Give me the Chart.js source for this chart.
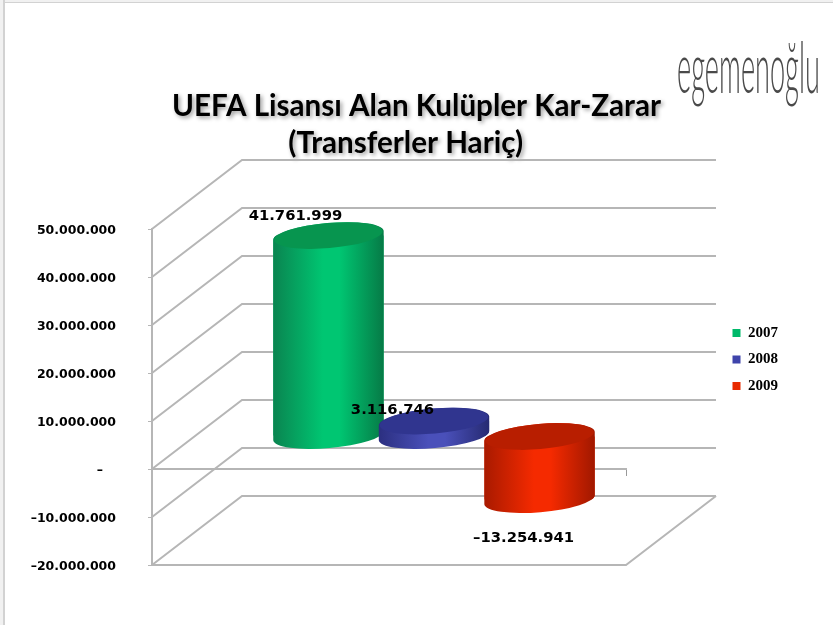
<!DOCTYPE html>
<html>
<head>
<meta charset="utf-8">
<style>
  html, body { margin: 0; padding: 0; background: #fff; }
  #wrap { position: relative; width: 833px; height: 625px; overflow: hidden; }
  #chart { position: absolute; left: 0; top: 0; }
</style>
<script src="https://cdn.jsdelivr.net/npm/chart.js@4"></script>
</head>
<body>
<div id="wrap"><canvas id="chart" width="833" height="625"></canvas></div>
<script>
const categories = ["Kar-Zarar"];
const seriesNames = ["2007", "2008", "2009"];
const seriesValues = [41761999, 3116746, -13254941];
const valueLabels = ["41.761.999", "3.116.746", "–13.254.941"];
const yTickLabels = [
  "–20.000.000",
  "–10.000.000",
  "–   ",
  "10.000.000",
  "20.000.000",
  "30.000.000",
  "40.000.000",
  "50.000.000",
];
const titleLines = ["UEFA Lisansı Alan Kulüpler Kar-Zarar", "(Transferler Hariç)   "];

const seriesColors = ["#00b96a", "#3f44ab", "#e82a00"];
const sideShades = [
  ["#0a8450", "#00c672", "#067a46"],
  ["#2b2f80", "#4a50ba", "#262a72"],
  ["#a81a00", "#f52a00", "#a01800"],
];
const capColors = ["#07954f", "#30358f", "#b81e00"];
const labelShift = [[-33, -19], [-41.5, -11], [-16, 39]];

const gridColor = "#b6b6b6";
const backDepth = { x: 90, y: -69 };
const barDepth = { x: 45, y: -33 };
const capTilt = -0.085;
const capHeight = 12.6;

function capsule(ctx, x, top, bottom, a) {
  ctx.beginPath();
  ctx.ellipse(x, bottom, a, capHeight, capTilt, 0, Math.PI);
  ctx.ellipse(x, top, a, capHeight, capTilt, Math.PI, Math.PI * 2);
  ctx.closePath();
}

// floor, back wall and side wall of the 3d box, taken from the y scale
const boxPlugin = {
  id: "box3d",
  beforeDatasetsDraw(chart) {
    const { ctx, scales, chartArea } = chart;
    const y = scales.y;
    ctx.save();
    ctx.strokeStyle = gridColor;
    ctx.lineWidth = 2;
    y.ticks.forEach((t) => {
      const py = y.getPixelForValue(t.value);
      ctx.beginPath();
      ctx.moveTo(chartArea.left, py);
      ctx.lineTo(chartArea.left + backDepth.x, py + backDepth.y);
      ctx.lineTo(chartArea.right + backDepth.x, py + backDepth.y);
      ctx.stroke();
    });
    const bottom = y.getPixelForValue(y.min);
    ctx.beginPath();
    ctx.moveTo(chartArea.left, bottom);
    ctx.lineTo(chartArea.right, bottom);
    ctx.lineTo(chartArea.right + backDepth.x, bottom + backDepth.y);
    ctx.stroke();
    ctx.restore();
  },
  // the library's own bar is moved back and trimmed to the cylinder outline
  beforeDatasetDraw(chart, args) {
    const { ctx } = chart;
    const bar = chart.getDatasetMeta(args.index).data[0];
    ctx.save();
    capsule(
      ctx,
      bar.x + barDepth.x,
      Math.min(bar.y, bar.base) + barDepth.y,
      Math.max(bar.y, bar.base) + barDepth.y,
      bar.width / 2
    );
    ctx.clip();
    ctx.translate(barDepth.x, barDepth.y);
  },
  afterDatasetDraw(chart) {
    chart.ctx.restore();
  },
  afterDatasetsDraw(chart) {
    const { ctx } = chart;
    seriesValues.forEach((v, i) => {
      const bar = chart.getDatasetMeta(i).data[0];
      const cx = bar.x + barDepth.x;
      const a = bar.width / 2;
      const top = Math.min(bar.y, bar.base) + barDepth.y;
      const bottom = Math.max(bar.y, bar.base) + barDepth.y;
      const g = ctx.createLinearGradient(cx - a, 0, cx + a, 0);
      g.addColorStop(0, sideShades[i][0]);
      g.addColorStop(0.45, sideShades[i][1]);
      g.addColorStop(0.6, sideShades[i][1]);
      g.addColorStop(1, sideShades[i][2]);
      capsule(ctx, cx, top, bottom, a);
      ctx.fillStyle = g;
      ctx.fill();
      ctx.beginPath();
      ctx.ellipse(cx, top, a - 1, capHeight, capTilt, 0, Math.PI * 2);
      ctx.fillStyle = capColors[i];
      ctx.fill();
    });
    ctx.save();
    ctx.font = "bold 14.8px 'DejaVu Sans'";
    ctx.fillStyle = "#000";
    ctx.textAlign = "center";
    ctx.textBaseline = "middle";
    seriesValues.forEach((v, i) => {
      const bar = chart.getDatasetMeta(i).data[0];
      ctx.fillText(valueLabels[i], bar.x + barDepth.x + labelShift[i][0], bar.y + barDepth.y + labelShift[i][1]);
    });
    ctx.restore();
  },
  afterLayout(chart) {
    // legend sits higher and further right than the layout would put it
    const lg = chart.legend;
    lg.left += 95;
    lg.right += 95;
    lg.top -= 37.5;
    lg.bottom -= 37.5;
    // title is centred on the whole page, not on what the padding leaves
    chart.titleBlock.left = 0;
    chart.titleBlock.right = chart.width;
  },
  afterInit(chart) {
    // soft shadow behind the title
    const tb = chart.titleBlock;
    const drawTitle = tb.draw;
    tb.draw = function () {
      const c = this.ctx;
      c.save();
      c.shadowColor = "rgba(0,0,0,0.4)";
      c.shadowBlur = 4;
      c.shadowOffsetX = 2;
      c.shadowOffsetY = 2;
      drawTitle.call(this);
      c.restore();
    };
  },
  afterDraw(chart) {
    const { ctx } = chart;
    // logo wordmark
    ctx.save();
    ctx.translate(677, 93);
    ctx.scale(0.388, 1);
    ctx.font = "300 70px Lato";
    ctx.fillStyle = "#4a4a4a";
    ctx.textBaseline = "alphabetic";
    ctx.fillText("egemenoğlu", 0, 0);
    ctx.restore();
    // thin page frame
    ctx.save();
    ctx.fillStyle = "#f1f1f1";
    ctx.fillRect(0, 0, 3, 625);
    ctx.fillRect(0, 0, 833, 2);
    ctx.fillStyle = "#d2d2d2";
    ctx.fillRect(3, 0, 2, 625);
    ctx.fillRect(3, 2, 830, 1);
    ctx.restore();
  },
};

new Chart(document.getElementById("chart").getContext("2d"), {
  type: "bar",
  data: {
    labels: categories,
    datasets: seriesNames.map((name, i) => ({
      label: name,
      data: [seriesValues[i]],
      backgroundColor: seriesColors[i],
      categoryPercentage: 0.668,
      barPercentage: 1.05,
    })),
  },
  options: {
    responsive: false,
    animation: false,
    layout: { padding: { left: 0, right: 140, top: 0, bottom: 60 } },
    plugins: {
      title: {
        display: true,
        text: titleLines,
        color: "#000",
        font: { family: "Lato", weight: "bold", size: 29.6, lineHeight: 37 / 29.6 },
        padding: { top: 87.5, bottom: 67.5 },
      },
      legend: {
        display: true,
        position: "right",
        fullSize: false,
        labels: {
          boxWidth: 8,
          boxHeight: 8,
          padding: 11.5,
          color: "#000",
          font: { family: "Liberation Serif", weight: "bold", size: 15 },
        },
      },
      tooltip: { enabled: false },
    },
    scales: {
      x: {
        position: { y: 0 },
        z: 1,
        border: { color: "rgba(120,120,120,0.55)", width: 2 },
        grid: { drawOnChartArea: false, drawTicks: true, tickLength: 6, color: "#999", lineWidth: 1 },
        ticks: { display: false },
      },
      y: {
        min: -20000000,
        max: 50000000,
        border: { color: gridColor, width: 2 },
        grid: { drawOnChartArea: false, drawTicks: true, tickLength: 4, color: gridColor },
        afterFit(scale) {
          scale.width = 152;
        },
        ticks: {
          stepSize: 10000000,
          autoSkip: false,
          padding: 32,
          labelOffset: 1.5,
          color: "#000",
          font: { family: "DejaVu Sans", weight: "bold", size: 12.5 },
          callback: (v, i) => yTickLabels[i],
        },
      },
    },
  },
  plugins: [boxPlugin],
});
</script>
</body>
</html>
